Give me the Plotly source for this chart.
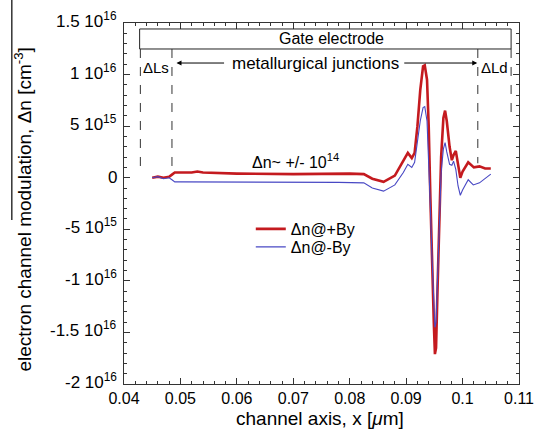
import plotly.graph_objects as go

# ---- data (values in units of 1e15 cm^-3) ----
SCALE = 1e15
x_pos = [0.0450, 0.0460, 0.0470, 0.0480, 0.0485, 0.0490, 0.0500, 0.0520, 0.0530, 0.0540,
         0.0600, 0.0700, 0.0800, 0.0825, 0.0840, 0.0860, 0.0880, 0.0895, 0.0903, 0.0910,
         0.0915, 0.0920, 0.0925, 0.0930, 0.0933, 0.0937, 0.0940, 0.0943, 0.0946, 0.0949,
         0.0951, 0.0953, 0.0956, 0.0959, 0.0962, 0.0966, 0.0969, 0.0972, 0.0977, 0.0981,
         0.0984, 0.0988, 0.0992, 0.0996, 0.1000, 0.1010, 0.1020, 0.1030, 0.1040, 0.1050]
dn_pos = [0.0, 0.1, 0.0, 0.1, 0.3, 0.5, 0.5, 0.5, 0.6, 0.5,
          0.4, 0.35, 0.4, 0.35, -0.1, -0.4, 0.2, 1.6, 2.4, 1.9,
          2.4, 5.0, 8.5, 10.8, 10.9, 9.5, 5.0, -2.0, -9.0, -14.0,
          -17.1, -16.5, -10.0, -3.0, 2.0, 5.8, 6.5, 5.5, 3.0, 1.7,
          2.2, 2.6, 1.2, 0.0, 0.6, 1.5, 1.0, 1.1, 0.9, 0.9]

x_neg = [0.0450, 0.0460, 0.0470, 0.0480, 0.0485, 0.0490, 0.0500, 0.0600, 0.0700, 0.0780,
         0.0825, 0.0840, 0.0860, 0.0880, 0.0895, 0.0903, 0.0910, 0.0915, 0.0920, 0.0925,
         0.0930, 0.0933, 0.0937, 0.0940, 0.0943, 0.0946, 0.0949, 0.0951, 0.0953, 0.0956,
         0.0959, 0.0962, 0.0966, 0.0969, 0.0972, 0.0977, 0.0981, 0.0984, 0.0988, 0.0992,
         0.0996, 0.1000, 0.1010, 0.1019, 0.1030, 0.1040, 0.1050]
dn_neg = [0.0, 0.1, -0.1, 0.0, -0.2, -0.4, -0.4, -0.4, -0.4, -0.45,
          -0.5, -1.0, -1.3, -0.7, 0.5, 1.3, 1.0, 1.5, 3.5, 5.5,
          6.8, 6.9, 5.5, 2.0, -3.0, -8.0, -12.0, -14.5, -14.0, -9.0,
          -3.0, 0.5, 2.8, 3.4, 2.5, 1.3, 1.2, 1.6, 0.8, -0.8,
          -1.7, -1.2, -0.2, -0.7, -0.5, -0.1, 0.35]

y_tickvals = [1.5e16, 1e16, 5e15, 0, -5e15, -1e16, -1.5e16, -2e16]
y_ticktext = ["1.5 10<sup>16</sup>", "1 10<sup>16</sup>", "5 10<sup>15</sup>", "0",
              "-5 10<sup>15</sup>", "-1 10<sup>16</sup>", "-1.5 10<sup>16</sup>", "-2 10<sup>16</sup>"]
x_tickvals = [0.04, 0.05, 0.06, 0.07, 0.08, 0.09, 0.10, 0.11]
x_ticktext = ["0.04", "0.05", "0.06", "0.07", "0.08", "0.09", "0.1", "0.11"]

FONT = "Liberation Sans, Arial, Helvetica, sans-serif"

fig = go.Figure()
fig.add_trace(go.Scatter(x=x_pos, y=[v * SCALE for v in dn_pos], mode="lines", showlegend=True,
                         name="Δn@+By", legend="legend", line=dict(color="#c41a1f", width=2.6)))
fig.add_trace(go.Scatter(x=x_neg, y=[v * SCALE for v in dn_neg], mode="lines", showlegend=True,
                         name="Δn@-By", legend="legend2", line=dict(color="#4848c4", width=1.1)))

# Gate electrode box
fig.add_shape(type="rect", xref="x", yref="y", x0=0.04277, x1=0.1086, y0=1.248e16, y1=1.442e16,
              line=dict(color="#222", width=1), fillcolor="rgba(0,0,0,0)")
# dashed verticals
for xv, ybot in [(0.0429, 0.07e16), (0.0485, 0.06e16), (0.1027, 0.14e16), (0.1086, 0.63e16)]:
    fig.add_shape(type="line", xref="x", yref="y", x0=xv, x1=xv, y0=1.248e16, y1=ybot,
                  line=dict(color="#333", width=1, dash="dash"))

ann = []
ann.append(dict(x=0.0768, y=1.345e16, xref="x", yref="y", text="Gate electrode", showarrow=False,
                font=dict(size=16, color="black", family=FONT)))
ann.append(dict(x=0.0739, y=1.112e16, xref="x", yref="y", text="metallurgical junctions", showarrow=False,
                font=dict(size=17, color="black", family=FONT)))
# arrows
ann.append(dict(x=0.0493, y=1.112e16, ax=0.0580, ay=1.112e16, xref="x", yref="y", axref="x", ayref="y",
                text="", showarrow=True, arrowhead=2, arrowsize=1, arrowwidth=1, arrowcolor="black"))
ann.append(dict(x=0.1026, y=1.112e16, ax=0.0894, ay=1.112e16, xref="x", yref="y", axref="x", ayref="y",
                text="", showarrow=True, arrowhead=2, arrowsize=1, arrowwidth=1, arrowcolor="black"))
ann.append(dict(x=0.0457, y=1.07e16, xref="x", yref="y", text="ΔLs", showarrow=False,
                font=dict(size=15, color="black", family=FONT)))
ann.append(dict(x=0.1056, y=1.07e16, xref="x", yref="y", text="ΔLd", showarrow=False,
                font=dict(size=15, color="black", family=FONT)))
ann.append(dict(x=0.0704, y=0.16e16, xref="x", yref="y", text="Δn~ +/- 10<sup>14</sup>", showarrow=False,
                font=dict(size=16, color="black", family=FONT)))
# y tick labels (placed at the axis tick values)
for tv, tt in zip(y_tickvals, y_ticktext):
    ann.append(dict(x=0, y=tv, xref="paper", yref="y", text=tt, showarrow=False,
                    xanchor="right", yanchor="middle", xshift=-5, yshift=3 if "sup" in tt else 0,
                    font=dict(size=17, color="black", family=FONT)))
# axis titles
ann.append(dict(x=(20 - 124) / 405, y=(384 - 210) / 361, xref="paper", yref="paper",
                text="electron channel modulation, Δn [cm<sup>-3</sup>]", textangle=-90, showarrow=False,
                xanchor="center", yanchor="middle", font=dict(size=19, color="black", family=FONT)))
ann.append(dict(x=(325 - 124) / 405, y=(384 - 418) / 361, xref="paper", yref="paper",
                text="channel axis, x [<i>μ</i>m]", showarrow=False,
                xanchor="center", yanchor="middle", font=dict(size=19, color="black", family=FONT)))

fig.add_shape(type="line", xref="paper", yref="paper", x0=(9 - 124) / 405, x1=(9 - 124) / 405,
              y0=(384 - 0) / 361, y1=(384 - 220) / 361, line=dict(color="black", width=1.2))

axis_common = dict(showline=True, linecolor="#333", linewidth=1, mirror="ticks", ticks="inside",
                   ticklen=6, tickcolor="#333", showgrid=False, zeroline=False)

legend_common = dict(xanchor="left", yanchor="middle", bgcolor="rgba(0,0,0,0)",
                     font=dict(size=16, color="black", family=FONT), borderwidth=0)

fig.update_layout(
    width=546, height=432, margin=dict(l=124, r=17, t=23, b=48),
    paper_bgcolor="white", plot_bgcolor="white", showlegend=True,
    font=dict(family=FONT, color="black"),
    xaxis=dict(range=[0.04, 0.11], tickvals=x_tickvals, ticktext=x_ticktext,
               tickfont=dict(size=16, color="black", family=FONT),
               minor=dict(dtick=0.002, ticks="inside", ticklen=3, tickcolor="#333"), **axis_common),
    yaxis=dict(range=[-2e16, 1.5e16], tickvals=y_tickvals, showticklabels=False,
               minor=dict(dtick=1e15, ticks="inside", ticklen=3, tickcolor="#333"), **axis_common),
    legend=dict(x=(254 - 124) / 405, y=(384 - 229) / 361, **legend_common),
    legend2=dict(x=(254 - 124) / 405, y=(384 - 247) / 361, **legend_common),
    annotations=ann,
)

fig.write_html("out.html")
